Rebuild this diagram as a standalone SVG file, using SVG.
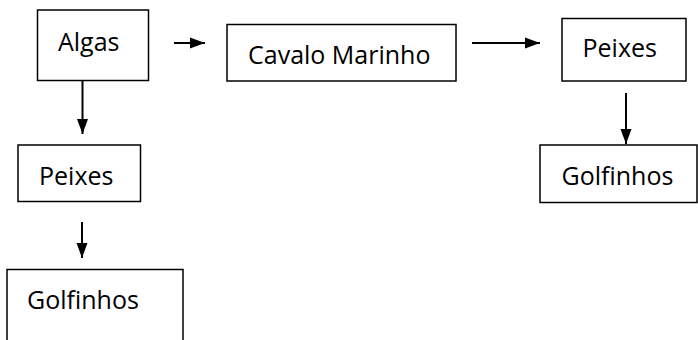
<svg xmlns="http://www.w3.org/2000/svg" width="698" height="340" viewBox="0 0 698 340">
<style>
.box{fill:#fff;stroke:#000;stroke-width:1.5}
.lbl{font-family:"Open Sans","Liberation Sans",sans-serif;font-size:25px;fill:#000}
.con{stroke:#000;stroke-width:2;fill:none}
</style>
<defs>
<marker id="ah" markerUnits="userSpaceOnUse" markerWidth="16" markerHeight="12" refX="15" refY="6" orient="auto">
<path d="M0,0.5 L15,6 L0,11.5 Z" fill="#000"/>
</marker>
</defs>
<rect width="698" height="340" fill="#fff"/>
<g id="connectors">
<line class="con" x1="174" y1="43" x2="205" y2="43" marker-end="url(#ah)"/>
<line class="con" x1="472" y1="43" x2="540" y2="43" marker-end="url(#ah)"/>
<line class="con" x1="626" y1="93" x2="626" y2="144" marker-end="url(#ah)"/>
<line class="con" x1="82.5" y1="81" x2="82.5" y2="134" marker-end="url(#ah)"/>
<line class="con" x1="82" y1="222" x2="82" y2="258" marker-end="url(#ah)"/>
</g>
<g id="algas">
<rect class="box" x="37.5" y="10" width="111" height="70.5"/>
<text class="lbl" x="58" y="51">Algas</text>
</g>
<g id="cavalo">
<rect class="box" x="227" y="24.5" width="229" height="56.5"/>
<text class="lbl" x="248" y="64">Cavalo Marinho</text>
</g>
<g id="peixes-right">
<rect class="box" x="562" y="18.5" width="124" height="62.5"/>
<text class="lbl" x="582.5" y="57">Peixes</text>
</g>
<g id="golfinhos-right">
<rect class="box" x="540" y="145" width="157" height="57.5"/>
<text class="lbl" x="561.5" y="184.5">Golfinhos</text>
</g>
<g id="peixes-left">
<rect class="box" x="18" y="145" width="122.5" height="56.5"/>
<text class="lbl" x="39" y="185">Peixes</text>
</g>
<g id="golfinhos-left">
<rect class="box" x="7" y="269.5" width="176" height="80"/>
<text class="lbl" x="27" y="309">Golfinhos</text>
</g>
</svg>
